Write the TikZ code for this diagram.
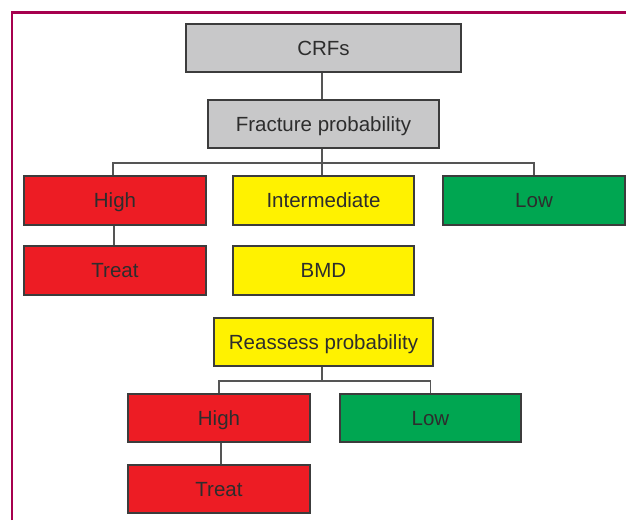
\documentclass[tikz,border=0pt]{standalone}
\usepackage{fontspec}
\setmainfont{Liberation Sans}
\definecolor{frame}{RGB}{166,0,78}
\definecolor{boxgray}{RGB}{200,200,201}
\definecolor{boxred}{RGB}{237,28,36}
\definecolor{boxyellow}{RGB}{255,242,0}
\definecolor{boxgreen}{RGB}{0,166,81}
\definecolor{edge}{RGB}{60,60,60}
\definecolor{txt}{RGB}{45,45,45}
\definecolor{wire}{RGB}{85,85,85}
\tikzset{
  box/.style={draw=edge, line width=1.4pt, inner sep=0pt, text=txt,
    text height=14.5pt, text depth=0pt,
    font=\fontsize{20.5}{23}\selectfont},
  grayb/.style={box, fill=boxgray},
  redb/.style={box, fill=boxred},
  yelb/.style={box, fill=boxyellow},
  greenb/.style={box, fill=boxgreen},
  wireline/.style={draw=wire, line width=1.4pt},
}
\begin{document}
\begin{tikzpicture}[x=1pt,y=-1pt]
\useasboundingbox (0,0) rectangle (626,520);
% frame
\draw[frame, line width=2.2pt] (12,520) -- (12,12.5) -- (626,12.5);
% nodes
\node[grayb, minimum width=275pt, minimum height=48pt] (crf) at (323.5,48) {CRFs};
\node[grayb, minimum width=231pt, minimum height=48pt] (fp) at (323.5,124) {Fracture probability};
\node[redb, minimum width=182pt, minimum height=49pt] (high) at (115,200.5) {High};
\node[yelb, minimum width=181pt, minimum height=49pt] (inter) at (323.5,200.5) {Intermediate};
\node[greenb, minimum width=182pt, minimum height=49pt] (low) at (534,200.5) {Low};
\node[redb, minimum width=182pt, minimum height=49pt] (treat) at (115,270.5) {Treat};
\node[yelb, minimum width=181pt, minimum height=49pt] (bmd) at (323.5,270.5) {BMD};
\node[yelb, minimum width=219pt, minimum height=48pt] (re) at (323.5,342) {Reassess probability};
\node[redb, minimum width=182pt, minimum height=48pt] (high2) at (219,418) {High};
\node[greenb, minimum width=181pt, minimum height=48pt] (low2) at (430.5,418) {Low};
\node[redb, minimum width=182pt, minimum height=48pt] (treat2) at (219,489) {Treat};
% coordinates for buses
\coordinate (b1) at (322,163);
\coordinate (b2) at (322,381);
% connectors
\draw[wireline] (crf.south -| 322,0) -- (fp.north -| 322,0);
\draw[wireline] (fp.south -| b1) -- (inter.north -| b1);
\draw[wireline] (high.north -| 113,0) |- (b1) -| (low.north);
\draw[wireline] (high.south -| 114,0) -- (treat.north -| 114,0);
\draw[wireline] (re.south -| b2) -- (b2);
\draw[wireline] (high2.north) |- (b2) -| (low2.north);
\draw[wireline] (high2.south -| 221,0) -- (treat2.north -| 221,0);
\end{tikzpicture}
\end{document}
